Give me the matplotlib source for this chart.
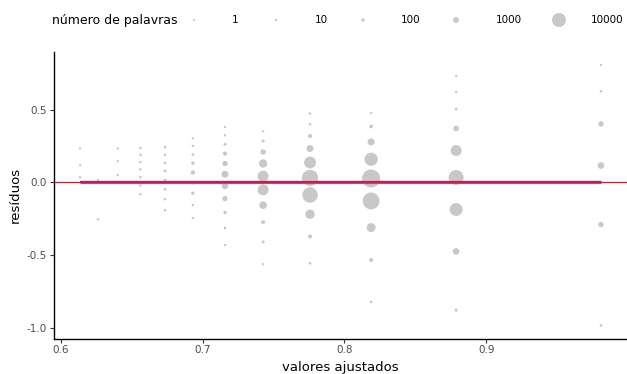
import numpy as np
import matplotlib
matplotlib.use('Agg')
import matplotlib.pyplot as plt

plt.rcParams['font.family'] = ['DejaVu Sans']

# valores ajustados de cada grupo (eixo x)
ajustados = [0.6134, 0.626, 0.640, 0.656, 0.6734, 0.693,
             0.7157, 0.7426, 0.7757, 0.8188, 0.8788, 0.981]

# resíduos por grupo
residuos = [
    [0.233, 0.120, 0.036],
    [0.017, -0.253],
    [0.233, 0.146, 0.051],
    [0.237, 0.189, 0.139, 0.089, 0.036, -0.021, -0.081],
    [0.242, 0.189, 0.134, 0.079, 0.017, -0.047, -0.115, -0.191],
    [0.303, 0.251, 0.191, 0.132, 0.068, -0.001, -0.074, -0.156, -0.244],
    [0.381, 0.324, 0.262, 0.198, 0.130, 0.056, -0.024, -0.111, -0.207, -0.312, -0.431],
    [0.351, 0.285, 0.209, 0.130, 0.043, -0.051, -0.156, -0.273, -0.408, -0.561],
    [0.473, 0.399, 0.319, 0.233, 0.137, 0.031, -0.086, -0.218, -0.371, -0.555],
    [0.477, 0.384, 0.278, 0.159, 0.027, -0.127, -0.310, -0.532, -0.820],
    [0.729, 0.621, 0.504, 0.370, 0.219, 0.034, -0.186, -0.474, -0.877],
    [0.806, 0.626, 0.402, 0.116, -0.289, -0.982],
]

# número de palavras em cada ponto
palavras = [
    [3, 3, 5],
    [3, 3],
    [3, 3, 4],
    [5, 8, 10, 15, 12, 8, 5],
    [6, 10, 20, 40, 45, 20, 12, 6],
    [3, 5, 17, 100, 336, 150, 100, 8, 4],
    [4, 6, 56, 250, 711, 1670, 1400, 711, 100, 17, 5],
    [4, 56, 711, 2670, 5500, 5500, 2100, 250, 56, 4],
    [4, 17, 250, 1670, 6800, 14000, 12650, 3600, 250, 17],
    [4, 156, 1670, 8700, 18225, 15400, 3300, 250, 17],
    [4, 4, 17, 850, 5500, 11560, 8250, 1400, 56],
    [4, 17, 711, 1400, 711, 17],
]

niveis_legenda = [1, 10, 100, 1000, 10000]
rotulos_legenda = ['1', '10', '100', '1000', '10000']

COR_PONTO = '#c8c8c8'
COR_AZUL = '#6b6bd6'
COR_VERMELHO = '#e8112d'


def tamanho(n):
    # diâmetro em px -> área em pt^2
    d = 2.2 + 0.118 * np.sqrt(np.asarray(n, dtype=float))
    return (0.72 * d) ** 2


x = np.concatenate([[a] * len(r) for a, r in zip(ajustados, residuos)])
y = np.concatenate(residuos)
n = np.concatenate(palavras)

fig = plt.figure(figsize=(6.27, 3.74), dpi=100)
ax = fig.add_axes([54 / 627, 35.5 / 374, 573 / 627, 286.5 / 374])

ax.scatter(x, y, s=tamanho(n), color=COR_PONTO, linewidths=0, zorder=2)

# reta ajustada aos resíduos e linha de referência em zero
xl = np.array([min(ajustados), max(ajustados)])
coef = np.polyfit(x, y, 1, w=n)
ax.plot(xl, np.polyval(coef, xl) * 0, color=COR_AZUL, lw=2.3, zorder=3,
        solid_capstyle='butt')
ax.plot(xl, [0, 0], color=COR_VERMELHO, lw=1.5, zorder=4, solid_capstyle='butt')
ax.axhline(0, color=COR_VERMELHO, lw=0.9, zorder=4)

# expansão de 5% como no ggplot
xmin, xmax = x.min(), x.max()
ymin, ymax = y.min(), y.max()
ax.set_xlim(xmin - 0.05 * (xmax - xmin), xmax + 0.05 * (xmax - xmin))
ax.set_ylim(ymin - 0.05 * (ymax - ymin), ymax + 0.05 * (ymax - ymin))

ax.set_xticks([0.6, 0.7, 0.8, 0.9])
ax.set_xticklabels(['0.6', '0.7', '0.8', '0.9'])
ax.set_yticks([0.5, 0.0, -0.5, -1.0])
ax.set_yticklabels(['0.5', '0.0', '-0.5', '-1.0'])
ax.tick_params(axis='both', labelsize=7.5, labelcolor='#4d4d4d', color='#333333',
               length=3, width=0.8, pad=2)

for lado in ['top', 'right']:
    ax.spines[lado].set_visible(False)
for lado in ['left', 'bottom']:
    ax.spines[lado].set_linewidth(1.0)
    ax.spines[lado].set_color('black')

ax.set_xlabel('valores ajustados', fontsize=9.5, labelpad=4)
ax.set_ylabel('resíduos', fontsize=9.5, labelpad=4)

# legenda de tamanhos no topo
leg = fig.add_axes([0, 0, 1, 1], facecolor='none')
leg.set_xlim(0, 627)
leg.set_ylim(374, 0)
leg.axis('off')
leg.text(52, 20, 'número de palavras', fontsize=9, va='center', ha='left')
chaves_x = [194, 276, 363, 456, 559]
textos_x = [232, 315, 401, 496, 591]
leg.scatter(chaves_x, [20] * 5, s=tamanho(niveis_legenda), color=COR_PONTO, linewidths=0)
for tx, rot in zip(textos_x, rotulos_legenda):
    leg.text(tx, 20, rot, fontsize=7.5, va='center', ha='left')

fig.savefig('out.png', dpi=100)
